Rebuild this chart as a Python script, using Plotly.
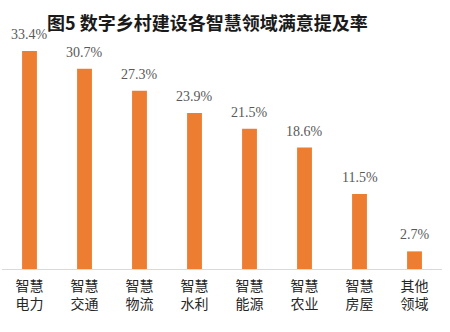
import plotly.graph_objects as go

# Satisfaction mention rate by smart-village field (%)
categories = ["智慧<br>电力", "智慧<br>交通", "智慧<br>物流", "智慧<br>水利",
              "智慧<br>能源", "智慧<br>农业", "智慧<br>房屋", "其他<br>领域"]
values = [33.4, 30.7, 27.3, 23.9, 21.5, 18.6, 11.5, 2.7]
value_labels = ["33.4%", "30.7%", "27.3%", "23.9%", "21.5%", "18.6%", "11.5%", "2.7%"]
title_text = "图5 数字乡村建设各智慧领域满意提及率"

BAR_COLOR = "#ED7D31"
LABEL_COLOR = "#595959"
CJK = "Noto Sans CJK SC"

fig = go.Figure(go.Bar(
    x=categories,
    y=values,
    marker=dict(color=BAR_COLOR, line=dict(width=0)),
    width=0.27,
    hoverinfo="skip",
))

for cat, v, lab in zip(categories, values, value_labels):
    fig.add_annotation(
        x=cat, y=v, text=lab, showarrow=False,
        xanchor="center", yanchor="bottom", yshift=7,
        font=dict(family="Liberation Serif", size=14, color=LABEL_COLOR),
    )

fig.add_annotation(
    x=0.098, xref="paper", y=1, yref="paper", yshift=-2,
    text=f"<b>{title_text}</b>", showarrow=False,
    xanchor="left", yanchor="middle",
    font=dict(family=CJK, size=18, color="#1a1a1a"),
)

fig.update_layout(
    width=450, height=332,
    margin=dict(l=2, r=8, t=20, b=63),
    paper_bgcolor="white", plot_bgcolor="white",
    showlegend=False,
    bargap=0.73,
    xaxis=dict(
        showline=True, linecolor="#D9D9D9", linewidth=1,
        ticks="", ticklabelstandoff=4,
        tickfont=dict(family=CJK, size=14, color="#262626"),
        showgrid=False, fixedrange=True,
    ),
    yaxis=dict(
        range=[0, 38.15], visible=False, showgrid=False, zeroline=False,
        fixedrange=True,
    ),
)

fig.write_html("out.html")
